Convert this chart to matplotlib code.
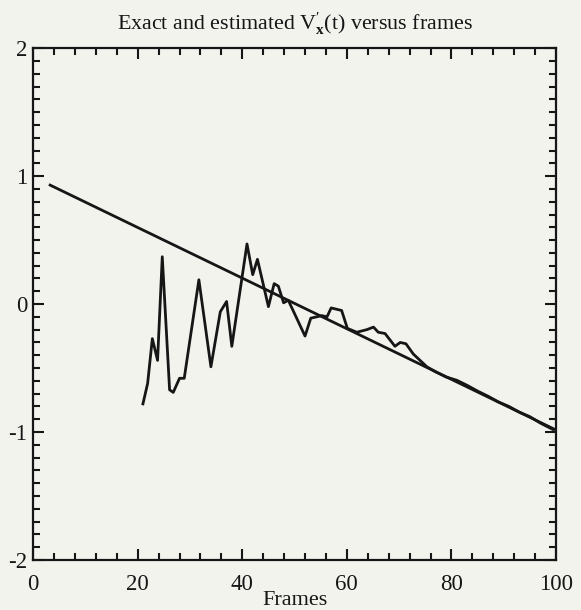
import matplotlib
matplotlib.use("Agg")
import matplotlib.pyplot as plt
from matplotlib.ticker import MultipleLocator, FuncFormatter

plt.rcParams['font.family'] = ['Liberation Serif', 'DejaVu Serif']
plt.rcParams['mathtext.fontset'] = 'custom'
plt.rcParams['mathtext.rm'] = 'Liberation Serif'
plt.rcParams['mathtext.it'] = 'Liberation Serif:italic'
plt.rcParams['mathtext.bf'] = 'Liberation Serif:bold'
plt.rcParams['axes.unicode_minus'] = False

# exact velocity: straight line over the frames
exact_frames = [3.25, 99.8]
exact_vx = [0.93, -0.98]

# estimated velocity per frame
est_frames = [21.0, 21.9, 22.8, 23.8, 24.7, 26.1, 26.8, 28.0, 28.9, 31.7,
              34.0, 35.8, 37.0, 38.0, 40.9, 42.0, 42.9, 45.0, 46.1, 46.9,
              47.9, 48.8, 52.0, 53.1, 54.2, 55.2, 56.2, 57.0, 59.0, 60.1,
              61.9, 63.8, 65.1, 66.0, 67.3, 69.2, 70.2, 71.3, 72.7, 75.3,
              77, 79, 81, 83, 85, 87, 89, 91, 93, 95, 97, 99.4]
est_vx = [-0.78, -0.62, -0.27, -0.44, 0.37, -0.67, -0.69, -0.58, -0.58, 0.19,
          -0.49, -0.06, 0.02, -0.33, 0.47, 0.23, 0.35, -0.02, 0.16, 0.14,
          0.01, 0.03, -0.25, -0.11, -0.10, -0.09, -0.10, -0.03, -0.05, -0.19,
          -0.22, -0.20, -0.18, -0.22, -0.23, -0.33, -0.30, -0.31, -0.39, -0.49,
          -0.53, -0.57, -0.595, -0.635, -0.68, -0.72, -0.765, -0.80, -0.845,
          -0.88, -0.93, -0.98]

paper = '#f3f3ee'
ink = '#161616'
fig = plt.figure(figsize=(5.81, 6.10), dpi=100, facecolor=paper)
ax = fig.add_axes([0.057, 0.082, 0.900, 0.839], facecolor=paper)

ax.plot(exact_frames, exact_vx, color=ink, lw=2.0)
ax.plot(est_frames, est_vx, color=ink, lw=2.0)

ax.set_xlim(0, 100)
ax.set_ylim(-2, 2)
ax.xaxis.set_major_locator(MultipleLocator(20))
ax.xaxis.set_minor_locator(MultipleLocator(4))
ax.yaxis.set_major_locator(MultipleLocator(1))
ax.yaxis.set_minor_locator(MultipleLocator(0.1))
ax.yaxis.set_major_formatter(FuncFormatter(lambda v, p: '%d' % round(v)))

ax.tick_params(which='both', direction='in', top=True, right=True,
               width=1.5, colors=ink)
ax.tick_params(which='major', length=8, labelsize=16.5)
ax.tick_params(axis='x', which='major', pad=10)
ax.tick_params(axis='y', which='major', pad=4)
ax.tick_params(which='minor', length=5)
for s in ax.spines.values():
    s.set_linewidth(1.6)
    s.set_color(ink)

ax.set_xlabel('Frames', fontsize=16, labelpad=-3, color=ink)
ax.set_title(r"Exact and estimated V$^{\prime}_{\mathbf{x}}$(t) versus frames",
             fontsize=15.8, pad=13, color=ink)

fig.savefig('out.png', dpi=100, facecolor=paper)
